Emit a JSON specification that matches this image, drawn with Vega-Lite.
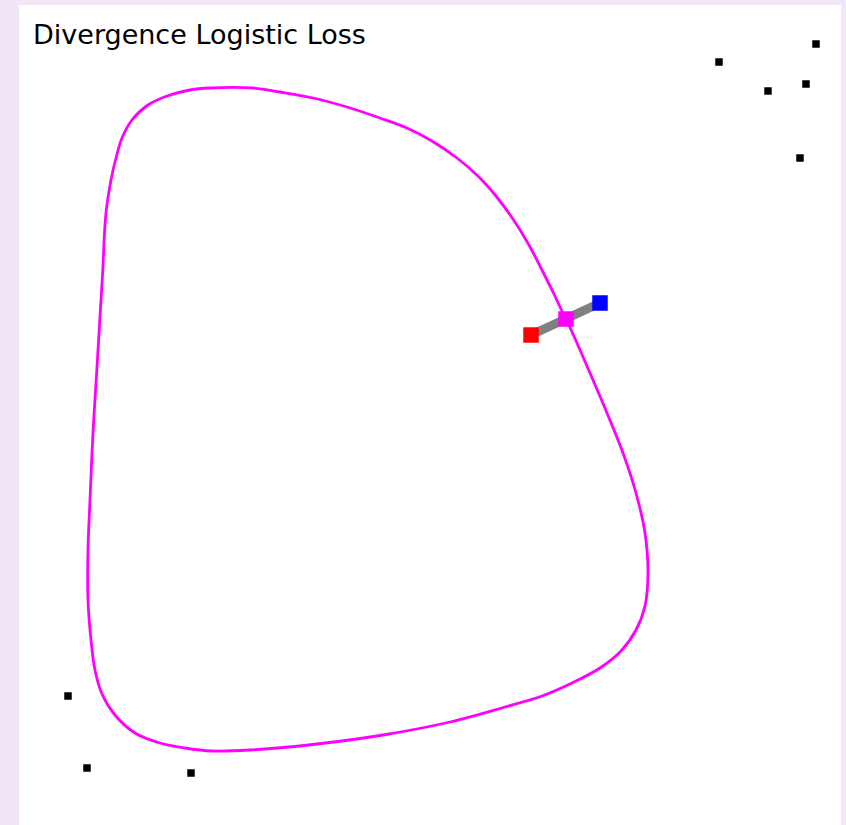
{
  "$schema": "https://vega.github.io/schema/vega-lite/v6.json",
  "width": 846,
  "height": 825,
  "autosize": {"type": "fit", "contains": "padding"},
  "padding": {"left": 19, "top": 5, "right": 5, "bottom": 0},
  "background": "#f0e6f5",
  "config": {"view": {"fill": "white", "stroke": null}},
  "datasets": {
    "curve": [
      {"i": 0, "x": 103, "y": 267}, {"i": 1, "x": 106, "y": 213}, {"i": 2, "x": 111, "y": 180},
      {"i": 3, "x": 116, "y": 158}, {"i": 4, "x": 122, "y": 138}, {"i": 5, "x": 132, "y": 120},
      {"i": 6, "x": 148, "y": 105}, {"i": 7, "x": 167, "y": 96}, {"i": 8, "x": 190, "y": 90},
      {"i": 9, "x": 210, "y": 88}, {"i": 10, "x": 253, "y": 88}, {"i": 11, "x": 280, "y": 92},
      {"i": 12, "x": 313, "y": 98}, {"i": 13, "x": 347, "y": 107}, {"i": 14, "x": 380, "y": 118},
      {"i": 15, "x": 407, "y": 128}, {"i": 16, "x": 432, "y": 141}, {"i": 17, "x": 457, "y": 158},
      {"i": 18, "x": 478, "y": 176}, {"i": 19, "x": 496, "y": 196}, {"i": 20, "x": 513, "y": 219},
      {"i": 21, "x": 529, "y": 245}, {"i": 22, "x": 543, "y": 272}, {"i": 23, "x": 554, "y": 294},
      {"i": 24, "x": 561, "y": 309}, {"i": 25, "x": 566, "y": 319}, {"i": 26, "x": 573, "y": 334},
      {"i": 27, "x": 590, "y": 373}, {"i": 28, "x": 607, "y": 413}, {"i": 29, "x": 623, "y": 453},
      {"i": 30, "x": 636, "y": 493}, {"i": 31, "x": 645, "y": 533}, {"i": 32, "x": 648, "y": 573},
      {"i": 33, "x": 645, "y": 606}, {"i": 34, "x": 636, "y": 630}, {"i": 35, "x": 621, "y": 651},
      {"i": 36, "x": 600, "y": 668}, {"i": 37, "x": 572, "y": 683}, {"i": 38, "x": 542, "y": 696},
      {"i": 39, "x": 505, "y": 707}, {"i": 40, "x": 450, "y": 722}, {"i": 41, "x": 383, "y": 735},
      {"i": 42, "x": 317, "y": 744}, {"i": 43, "x": 250, "y": 750}, {"i": 44, "x": 212, "y": 751},
      {"i": 45, "x": 185, "y": 748}, {"i": 46, "x": 160, "y": 743}, {"i": 47, "x": 135, "y": 733},
      {"i": 48, "x": 115, "y": 715}, {"i": 49, "x": 102, "y": 694}, {"i": 50, "x": 95, "y": 670},
      {"i": 51, "x": 91, "y": 640}, {"i": 52, "x": 88, "y": 600}, {"i": 53, "x": 88, "y": 550},
      {"i": 54, "x": 90, "y": 500}, {"i": 55, "x": 93, "y": 433}, {"i": 56, "x": 97, "y": 367},
      {"i": 57, "x": 100, "y": 317}, {"i": 58, "x": 103, "y": 267}
    ],
    "points": [
      {"x": 816, "y": 44}, {"x": 719, "y": 62}, {"x": 768, "y": 91}, {"x": 806, "y": 84},
      {"x": 800, "y": 158}, {"x": 68, "y": 696}, {"x": 87, "y": 768}, {"x": 191, "y": 773}
    ],
    "segment": [
      {"x": 531, "y": 335, "role": "start"},
      {"x": 566, "y": 319, "role": "mid"},
      {"x": 600, "y": 303, "role": "end"}
    ],
    "label": [{"x": 33, "y": 44, "text": "Divergence Logistic Loss"}]
  },
  "layer": [
    {
      "data": {"name": "curve"},
      "mark": {"type": "line", "color": "#ff00ff", "strokeWidth": 2.8, "interpolate": "catmull-rom"},
      "encoding": {
        "x": {"field": "x", "type": "quantitative", "scale": {"domain": [19, 841], "nice": false, "zero": false}, "axis": null},
        "y": {"field": "y", "type": "quantitative", "scale": {"domain": [5, 825], "reverse": true, "nice": false, "zero": false}, "axis": null},
        "order": {"field": "i", "type": "quantitative"}
      }
    },
    {
      "data": {"name": "segment"},
      "transform": [{"filter": "datum.role !== 'mid'"}],
      "mark": {"type": "line", "color": "#808080", "strokeWidth": 9, "strokeCap": "butt"},
      "encoding": {
        "x": {"field": "x", "type": "quantitative"},
        "y": {"field": "y", "type": "quantitative"}
      }
    },
    {
      "data": {"name": "segment"},
      "mark": {"type": "square", "filled": true, "opacity": 1, "size": 240},
      "encoding": {
        "x": {"field": "x", "type": "quantitative"},
        "y": {"field": "y", "type": "quantitative"},
        "color": {"field": "role", "type": "nominal", "scale": {"domain": ["start", "mid", "end"], "range": ["#ff0000", "#ff00ff", "#0000ff"]}, "legend": null}
      }
    },
    {
      "data": {"name": "points"},
      "mark": {"type": "square", "filled": true, "opacity": 1, "size": 56, "color": "#000000"},
      "encoding": {
        "x": {"field": "x", "type": "quantitative"},
        "y": {"field": "y", "type": "quantitative"}
      }
    },
    {
      "data": {"name": "label"},
      "mark": {"type": "text", "align": "left", "baseline": "alphabetic", "font": "DejaVu Sans", "fontSize": 27, "color": "#000000"},
      "encoding": {
        "x": {"field": "x", "type": "quantitative"},
        "y": {"field": "y", "type": "quantitative"},
        "text": {"field": "text", "type": "nominal"}
      }
    }
  ]
}
